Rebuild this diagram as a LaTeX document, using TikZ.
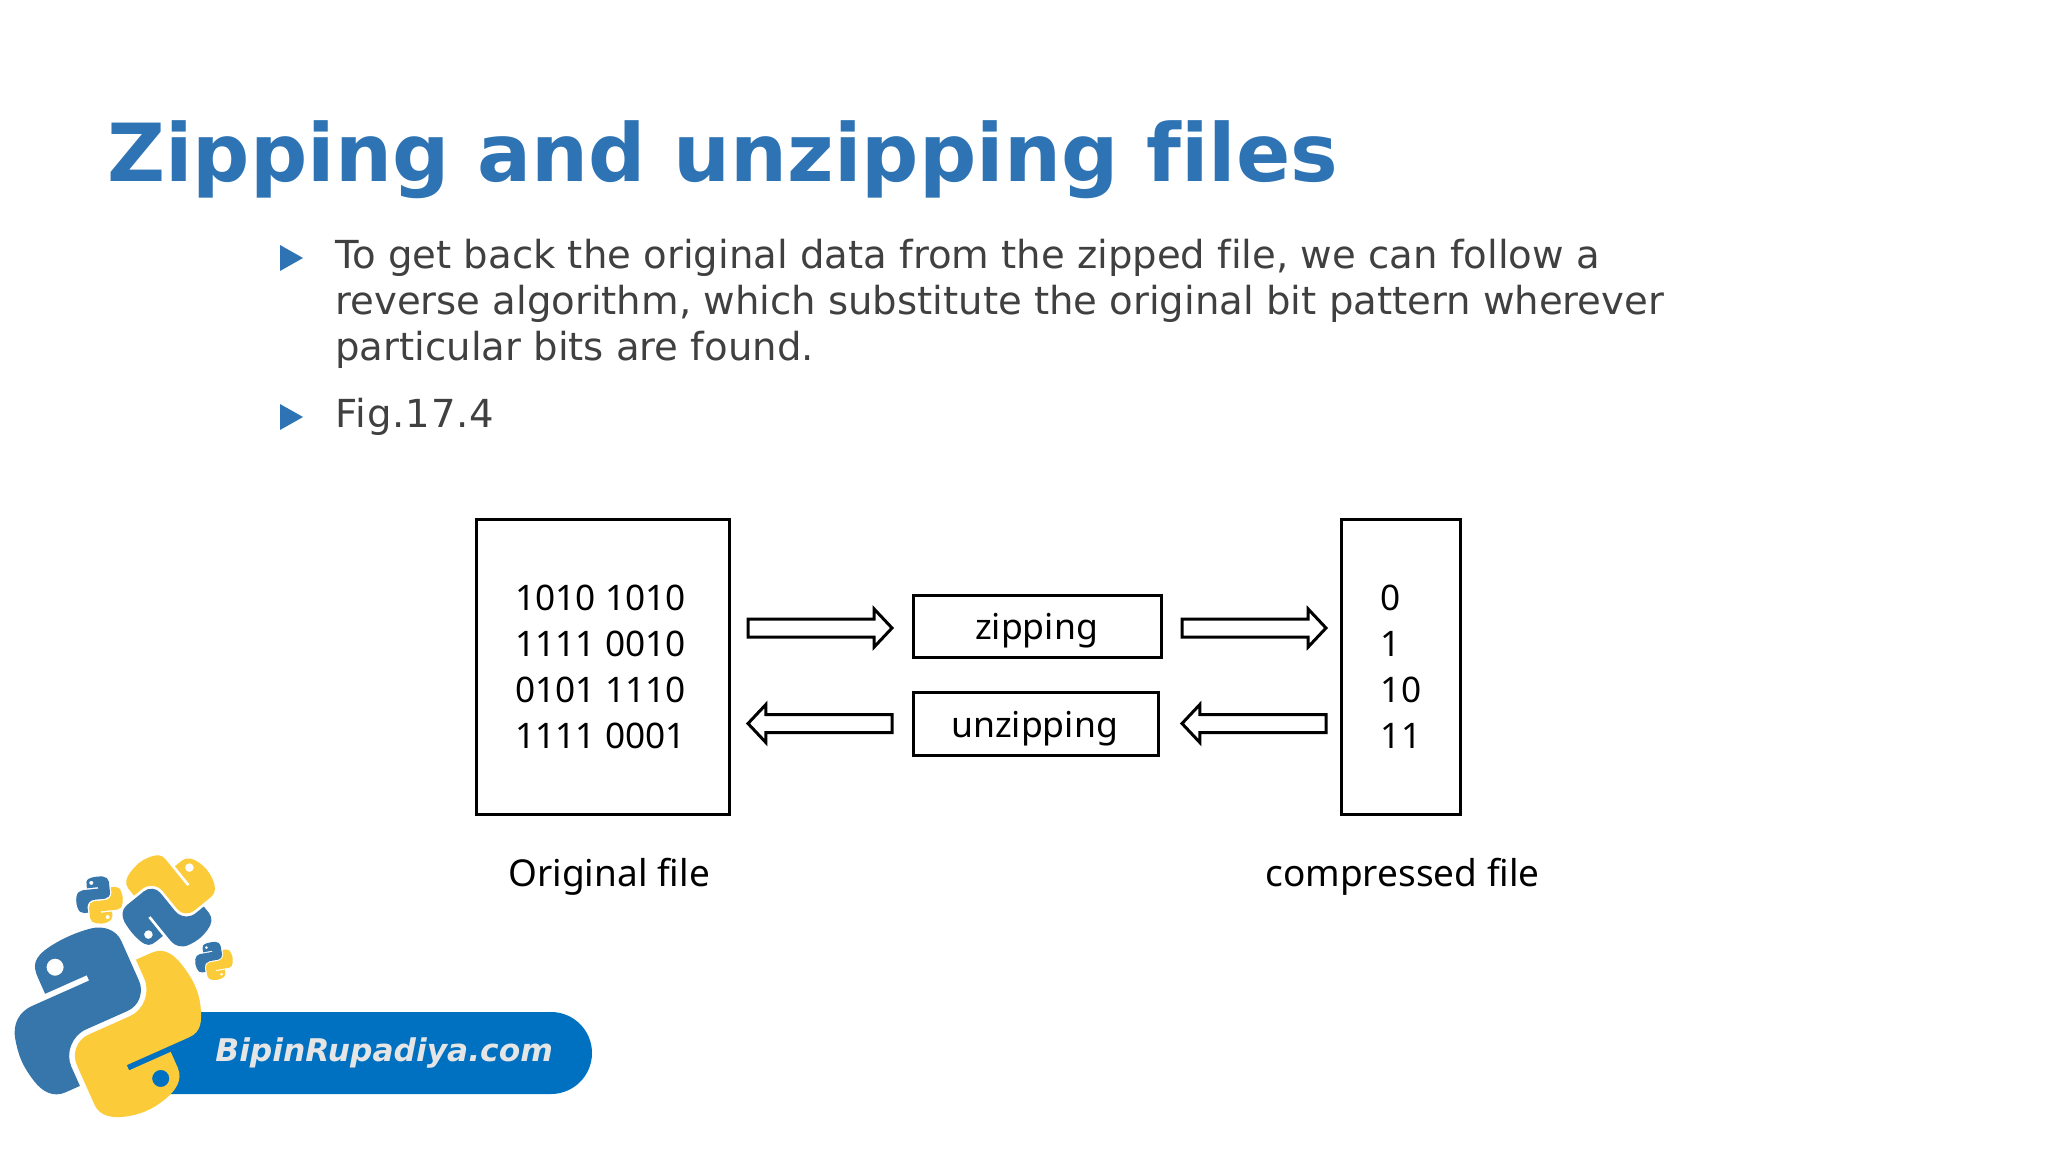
\documentclass[tikz,border=0pt]{standalone}
\usepackage{fontspec}
\setmainfont[Ligatures=NoCommon]{DejaVu Sans}
\newfontfamily\figfont[Ligatures=NoCommon]{Noto Sans}
\usetikzlibrary{calc}
\definecolor{titleblue}{HTML}{2E74B5}
\definecolor{bodygrey}{HTML}{404040}
\definecolor{pillblue}{HTML}{0070C0}
\definecolor{pyblue}{HTML}{3776AB}
\definecolor{pyyellow}{HTML}{FBCB3A}
\tikzset{
  boxline/.style={draw=black,line width=1.5pt},
  hollow/.style={draw=black,fill=white,line width=1.5pt,line join=miter},
  bullettri/.style={fill=titleblue,draw=none},
  titletext/.style={anchor=base west,inner sep=0pt,text=titleblue,font=\fontsize{40.05}{48}\selectfont\bfseries},
  bodytext/.style={anchor=base west,inner sep=0pt,text=bodygrey,font=\fontsize{19.3}{23}\selectfont},
  figtext/.style={anchor=base west,inner sep=0pt,text=black,font=\figfont\fontsize{17.6}{21}\selectfont},
  figmid/.style={figtext,anchor=base,font=\figfont\fontsize{17.8}{21}\selectfont},
  figlabel/.style={figtext,font=\figfont\fontsize{18.5}{22}\selectfont},
}
\newcommand\bluepath{(54.92,0) .. controls (50.34,0.02) and (45.96,0.41) .. (42.11,1.09) .. controls (30.76,3.10) and (28.70,7.29) .. (28.70,15.03) -- (28.70,25.25) -- (55.51,25.25) -- (55.51,28.66) -- (28.70,28.66) -- (18.64,28.66) .. controls (10.85,28.66) and (4.02,33.34) .. (1.89,42.25) .. controls (-0.57,52.46) and (-0.68,58.84) .. (1.89,69.50) .. controls (3.79,77.44) and (8.35,83.09) .. (16.14,83.09) -- (25.36,83.09) -- (25.36,70.84) .. controls (25.36,61.99) and (33.01,54.19) .. (42.11,54.19) -- (68.89,54.19) .. controls (76.34,54.19) and (82.29,48.05) .. (82.29,40.56) -- (82.29,15.03) .. controls (82.29,7.77) and (76.16,2.31) .. (68.89,1.09) .. controls (64.28,0.33) and (59.50,-0.02) .. (54.92,0) -- cycle (40.42,13.34) circle[radius=5.05]}
\newcommand\yellowpath{(85.64,28.66) -- (85.64,40.56) .. controls (85.64,49.79) and (77.81,57.56) .. (68.89,57.56) -- (42.11,57.56) .. controls (34.77,57.56) and (28.70,63.84) .. (28.70,71.19) -- (28.70,96.72) .. controls (28.70,103.99) and (35.02,108.26) .. (42.11,110.34) .. controls (50.59,112.84) and (58.73,113.29) .. (68.89,110.34) .. controls (75.64,108.39) and (82.29,104.46) .. (82.29,96.72) -- (82.29,86.50) -- (55.51,86.50) -- (55.51,83.09) -- (82.29,83.09) -- (95.70,83.09) .. controls (103.49,83.09) and (106.40,77.66) .. (109.11,69.50) .. controls (111.91,61.10) and (111.79,53.03) .. (109.11,42.25) .. controls (107.18,34.49) and (103.50,28.66) .. (95.70,28.66) -- cycle (70.58,98.41) circle[radius=5.05]}
\newcommand\pythonlogo[4]{%
  \begin{scope}[shift={(#1,#2)},rotate=#3,scale=#4,shift={(-55.5,-56)}]
    \fill[pyblue,even odd rule] \bluepath;
    \fill[pyyellow,even odd rule] \yellowpath;
  \end{scope}}
\newcommand\blockarrow[2]{%
  \draw[hollow] ($(#1)+(0,-9)$) -- ($($(#1)!.876!(#2)$)+(0,-9)$) -- ($($(#1)!.876!(#2)$)+(0,-19)$) -- (#2) -- ($($(#1)!.876!(#2)$)+(0,19)$) -- ($($(#1)!.876!(#2)$)+(0,9)$) -- ($(#1)+(0,9)$) -- cycle;}
\begin{document}
\begin{tikzpicture}[x=0.5pt,y=-0.5pt]
\useasboundingbox (0,0) rectangle (2048,1152);
\fill[white] (0,0) rectangle (2048,1152);
% title and text
\node[titletext] (title) at (107,181) {Zipping and unzipping files};
\fill[bullettri] (280,245) -- (303,258) -- (280,271) -- cycle;
\fill[bullettri] (280,404) -- (303,417) -- (280,430) -- cycle;
\node[bodytext] (l1) at (335,268) {To get back the original data from the zipped file, we can follow a};
\node[bodytext] (l2) at (335,314) {reverse algorithm, which substitute the original bit pattern wherever};
\node[bodytext] (l3) at (335,360) {particular bits are found.};
\node[bodytext] (l4) at (335,427) {\addfontfeature{LetterSpace=2.2}Fig.17.4};
% figure boxes
\draw[boxline] (476,519) rectangle (729,814);
\draw[boxline] (1341,519) rectangle (1460,814);
\draw[boxline] (913,595) rectangle (1161,657);
\draw[boxline] (913,692) rectangle (1158,755);
\node[figtext] (d1) at (515,610) {1010 1010};
\node[figtext] (d2) at (515,656) {1111 0010};
\node[figtext] (d3) at (515,702) {0101 1110};
\node[figtext] (d4) at (515,748) {1111 0001};
\node[figtext] (c1) at (1380.5,610) {0};
\node[figtext] (c2) at (1380.5,656) {1};
\node[figtext] (c3) at (1380.5,702) {10};
\node[figtext] (c4) at (1380.5,748) {11};
\node[figmid] (zip) at (1036.5,639) {zipping};
\node[figmid] (unzip) at (1034.5,737) {unzipping};
\node[figlabel] (orig) at (508,886) {Original file};
\node[figlabel] (comp) at (1265,886) {compressed file};
% block arrows
\coordinate (a1s) at (748,628); \coordinate (a1e) at (892,628);
\coordinate (a2s) at (1182,628); \coordinate (a2e) at (1326,628);
\coordinate (a3s) at (892,723.5); \coordinate (a3e) at (748,723.5);
\coordinate (a4s) at (1326,723.5); \coordinate (a4e) at (1182,723.5);
\blockarrow{a1s}{a1e}
\blockarrow{a2s}{a2e}
\blockarrow{a3s}{a3e}
\blockarrow{a4s}{a4e}
% logo
\fill[pillblue,rounded corners=41*0.5pt] (120,1012) rectangle (592,1094);
\node[anchor=base west,inner sep=0pt,text=white!90!black,font=\fontsize{15.65}{19}\selectfont\bfseries\itshape] (site) at (215,1061) {BipinRupadiya.com};
\pythonlogo{108}{1023}{24}{1.7}
\pythonlogo{169}{901}{129}{0.87}
\pythonlogo{99.5}{900}{6}{0.42}
\pythonlogo{214}{961}{10}{0.34}
\end{tikzpicture}
\end{document}
